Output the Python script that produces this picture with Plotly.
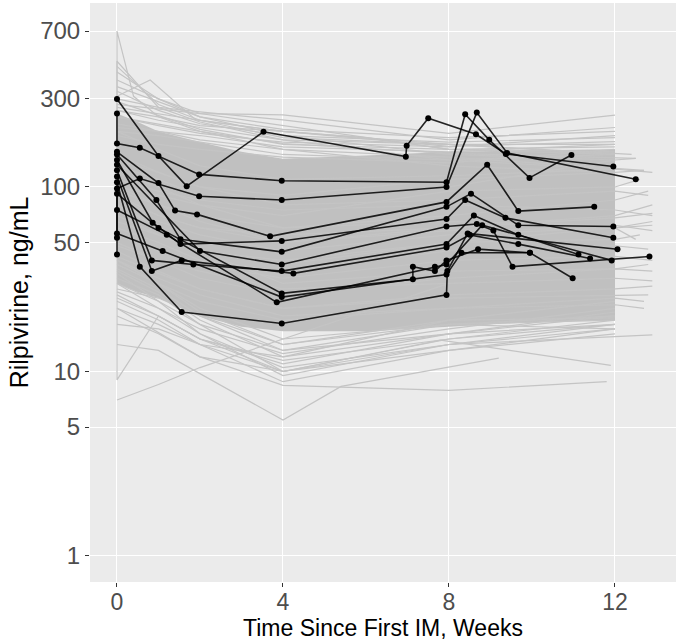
import plotly.graph_objects as go

# ---------------- data ----------------
x_tickvals = [0, 4, 8, 12]
y_tickvals = [1, 5, 10, 50, 100, 300, 700]
y_ticktext = ["1", "5", "10", "50", "100", "300", "700"]

# dense population band (weeks, ng/mL)
band_t = [0, 0.5, 1, 2, 3, 4, 6, 8, 10, 12]
band_upper = [250, 225, 200, 175, 155, 142, 148, 155, 158, 160]
band_lower = [30, 27, 25, 20, 17.5, 16.5, 16.5, 17.5, 18.5, 19]

# individual population profiles (grey)
grey_times = [
    [0, 0, 0.4, 1, 2, 4, 8, 12],
    [0, 0, 1, 2, 4, 8, 12],
    [0, 0.8, 1.9, 4, 8, 12],
    [0, 1, 2, 4, 8, 12],
    [0, 1, 2, 4, 8, 12],
    [0, 1, 2, 4, 8, 12],
    [0, 1, 2, 4, 8, 12.5],
    [0, 1, 2, 4, 8, 12.7],
    [0, 1, 2, 4, 8, 12],
    [0, 1, 2, 4, 8, 12],
    [0, 1, 2, 4, 6, 8, 12],
    [0, 1, 2, 4, 8, 12],
    [0, 1, 2, 4, 8, 12],
    [0, 1, 2, 4, 8, 12],
    [0, 1, 2, 4, 8, 12],
    [0, 1, 2, 4, 8, 12],
    [0, 1, 2, 4, 8, 12],
    [0, 1, 2, 4, 8, 12.4],
    [0, 1, 2, 4, 8, 12],
    [0, 1, 2, 4, 8, 12],
    [0, 1, 2, 4, 8],
    [0, 1, 4, 5.4, 9.2],
    [0, 1, 2, 4, 7.8, 11.9],
    [0, 2, 4, 8, 11.8],
    [0, 0, 1, 2, 4, 8, 12.9],
    [0, 1, 2, 4, 8, 12],
    [0, 1, 2, 4, 8, 12],
    [0, 1, 2, 4, 8, 12],
    [0, 1, 2, 4, 8, 12],
    [0, 1, 2, 4, 8, 12],
    [0, 1, 2, 4, 8, 12],
    [0, 1, 2, 4, 8, 12],
    [0, 1, 2, 4, 8, 12],
    [0, 1, 2, 4, 8, 12],
    [0, 1, 2, 4, 8, 12],
    [0, 1, 2, 4, 8, 12],
    [0, 1, 2, 4, 8, 12],
    [0, 1, 2, 4, 8, 12],
    [0, 1, 2, 4, 8, 12],
    [0, 1, 2, 4, 8, 12],
    [0, 1, 2, 4, 8, 12, 12.8],
    [0, 1, 2, 4, 8, 12, 12.9],
    [0, 1, 2, 4, 8, 12, 12.9],
    [0, 1, 2, 4, 8, 12, 12.8],
    [0, 1, 2, 4, 8, 12, 12.9],
    [0, 1, 2, 4, 8, 12, 12.9],
    [0, 1, 2, 4, 8, 12, 12.8],
    [0, 1, 2, 4, 8, 12, 12.6],
    [0, 1, 2, 4, 8, 12, 12.9],
    [0, 1, 2, 4, 8, 12, 12.7],
    [0, 1, 2, 4, 8, 12, 12.9],
    [0, 1, 2, 4, 8, 12, 12.9],
    [0, 1, 2, 4, 8, 12, 12.5],
    [0, 1, 2, 4, 8, 12, 12.7],
    [0, 1, 2, 4, 8, 12, 12.8],
    [0, 1, 2, 4, 8, 12, 12.9],
    [0, 1, 2, 4, 8, 12, 12.6],
    [0, 1, 2, 4, 8, 12, 12.9],
    [0, 1, 2, 4, 8, 12, 12.8],
    [0, 1, 2, 4, 8, 12, 12.9],
    [0, 1, 2, 4, 8, 12, 12.7],
    [0, 1, 2, 4, 8, 12, 12.9],
    [0, 1, 2, 4, 8, 12, 12.5],
]
grey_conc = [
    [160, 700, 310, 240, 200, 160, 130, 120],
    [130, 480, 270, 225, 180, 140, 125],
    [310, 380, 231, 200, 170, 150],
    [280, 265, 250, 246, 195, 245],
    [300, 270, 255, 231, 180, 210],
    [260, 240, 215, 200, 166, 176],
    [240, 220, 200, 172, 152, 143],
    [220, 200, 180, 160, 145, 123],
    [420, 300, 250, 215, 160, 150],
    [350, 290, 240, 190, 150, 140],
    [270, 250, 230, 200, 185, 160, 155],
    [200, 190, 175, 150, 140, 150],
    [190, 170, 160, 145, 135, 160],
    [330, 260, 220, 190, 175, 185],
    [260, 230, 210, 180, 170, 170],
    [240, 215, 195, 175, 165, 190],
    [380, 300, 240, 205, 185, 200],
    [450, 280, 230, 185, 170, 150],
    [290, 245, 205, 170, 160, 165],
    [210, 200, 190, 165, 155, 170],
    [7.0, 8.5, 10.5, 15, 30],
    [14, 13, 5.45, 8.3, 11.8],
    [20, 16, 12, 10, 14.8, 10.8],
    [22, 12, 8.4, 7.9, 8.8],
    [45, 9, 20, 15, 10, 14, 15.8],
    [25, 20, 15, 11, 16, 20],
    [30, 22, 17, 12.5, 17, 22],
    [28, 25, 20, 14, 18, 17],
    [32, 26, 18, 10, 15, 19],
    [27, 22, 16, 9.5, 14, 18],
    [36, 28, 20, 13, 16, 21],
    [18, 17, 14, 12, 19, 24],
    [38, 30, 22, 15, 18, 19],
    [24, 19, 14, 8.8, 13, 17],
    [30, 24, 18, 13, 18, 20],
    [26, 20, 15, 11.5, 15, 18],
    [34, 24, 16, 10.5, 14, 17],
    [22, 18, 14, 10, 13, 16],
    [40, 30, 21, 14, 19, 19.5],
    [35, 27, 19, 12, 16, 18],
    [150, 120, 100, 80, 85, 95, 90],
    [90, 70, 60, 55, 60, 70, 80],
    [120, 100, 80, 60, 65, 62, 58],
    [60, 50, 40, 35, 45, 48, 46],
    [80, 60, 45, 30, 35, 36, 35],
    [50, 40, 35, 28, 30, 32, 31],
    [45, 35, 28, 22, 25, 26, 26],
    [100, 90, 80, 70, 95, 100, 110],
    [70, 55, 45, 38, 50, 60, 65],
    [40, 32, 26, 20, 22, 23, 22],
    [110, 95, 85, 75, 80, 75, 70],
    [200, 160, 130, 110, 115, 125, 120],
    [130, 110, 90, 85, 100, 140, 143],
    [140, 120, 100, 90, 110, 120, 123],
    [95, 80, 70, 60, 70, 85, 95],
    [75, 65, 55, 45, 55, 60, 62],
    [65, 55, 45, 40, 50, 52, 55],
    [55, 45, 38, 32, 40, 42, 40],
    [48, 40, 32, 26, 32, 36, 38],
    [42, 34, 28, 22, 26, 28, 29],
    [38, 30, 24, 19, 22, 25, 24],
    [100, 80, 65, 50, 60, 68, 72],
    [85, 70, 60, 50, 58, 60, 52],
]

# highlighted individual profiles (black)
black_times = [
    [0, 1.0, 1.68, 3.53, 6.96, 6.98, 7.5, 8.65, 9.37, 11.96],
    [0, 0, 0.55, 1.98, 3.97, 7.94, 8.39, 8.97, 9.94, 10.95],
    [0, 0.55, 1.98, 3.97, 7.94, 8.67, 9.4, 12.5],
    [0, 1.0, 1.4, 1.93, 3.69, 7.94, 8.92, 9.67, 11.5],
    [0, 0.95, 1.53, 3.97, 7.94, 8.53, 9.67, 11.96],
    [0, 0.86, 1.53, 3.97, 7.94, 8.39, 9.36, 11.96],
    [0, 2.0, 3.97, 7.94, 8.67, 9.07, 9.53, 12.83],
    [0, 0.84, 1.84, 3.97, 7.94, 8.6, 9.67, 11.12],
    [0, 0.84, 1.56, 4.25, 7.94, 8.5, 9.67, 11.4],
    [0, 0, 0.55, 1.56, 3.97, 7.94, 7.96, 8.45, 12.06],
    [0, 0, 1.0, 3.97, 7.13, 7.13, 7.66, 7.94, 8.7, 9.95],
    [0, 1.2, 3.85, 7.66, 7.94, 8.8, 11.92],
    [0, 1.1, 3.97, 7.94, 8.3, 9.95, 10.98],
]
black_conc = [
    [300, 147, 101, 199, 146, 167, 236, 193, 151, 129],
    [250, 172, 163, 117, 108, 106, 248, 180, 112, 149],
    [98, 111, 89, 85, 100, 253, 153, 110],
    [155, 105, 74.5, 71, 54, 83, 132, 74, 78],
    [150, 85, 52, 44.5, 78, 92, 62, 61],
    [140, 64, 49, 51, 67, 85, 68, 53],
    [132, 45, 38, 61, 63, 58, 37, 42],
    [123, 40, 38, 35, 49, 70, 55, 43],
    [114, 35, 40, 34, 47, 55, 49, 41],
    [43, 106, 37, 21, 18.2, 26, 35, 56, 46],
    [53, 92, 60, 26.5, 31.6, 37, 35, 40, 46, 44],
    [75, 55, 23.7, 37, 38, 62, 40],
    [56, 45, 25.3, 33.5, 44, 44, 32],
]

# ---------------- figure ----------------
fig = go.Figure()

fig.add_trace(go.Scatter(
    x=band_t + band_t[::-1],
    y=band_upper + band_lower[::-1],
    fill="toself", fillcolor="rgb(192,192,192)",
    line=dict(width=0), mode="lines", hoverinfo="skip", showlegend=False,
))

gx, gy = [], []
for t, c in zip(grey_times, grey_conc):
    gx += t + [None]
    gy += c + [None]
fig.add_trace(go.Scatter(
    x=gx, y=gy, mode="lines",
    line=dict(color="rgb(196,196,196)", width=1.2),
    hoverinfo="skip", showlegend=False,
))

for t, c in zip(black_times, black_conc):
    fig.add_trace(go.Scatter(
        x=t, y=c, mode="lines+markers",
        line=dict(color="rgba(0,0,0,0.85)", width=1.6),
        marker=dict(color="black", size=6),
        showlegend=False,
    ))

font_family = "Liberation Sans, Arial, sans-serif"
fig.update_layout(
    width=676, height=641,
    margin=dict(l=90, r=0, t=3, b=59),
    paper_bgcolor="white",
    plot_bgcolor="#EBEBEB",
    font=dict(family=font_family, color="black"),
    showlegend=False,
)
fig.update_xaxes(
    range=[-0.65, 13.47],
    tickvals=x_tickvals,
    ticks="outside", ticklen=4, tickwidth=1.2, tickcolor="#333333",
    tickfont=dict(size=23, color="#4D4D4D"),
    ticklabelstandoff=-5,
    showgrid=True, gridcolor="white", gridwidth=1.4,
    zeroline=False, showline=False,
    title=dict(text="Time Since First IM, Weeks", font=dict(size=23), standoff=2),
)
fig.update_yaxes(
    type="log",
    range=[-0.141, 2.997],
    tickvals=y_tickvals, ticktext=y_ticktext,
    ticks="outside", ticklen=4, tickwidth=1.2, tickcolor="#333333",
    tickfont=dict(size=24, color="#4D4D4D"),
    showgrid=True, gridcolor="white", gridwidth=1.4,
    zeroline=False, showline=False,
    title=dict(text="Rilpivirine, ng/mL", font=dict(size=25), standoff=4),
)

fig.write_html("out.html", config={"displayModeBar": False},
               post_script="document.body.style.margin='0px';")
